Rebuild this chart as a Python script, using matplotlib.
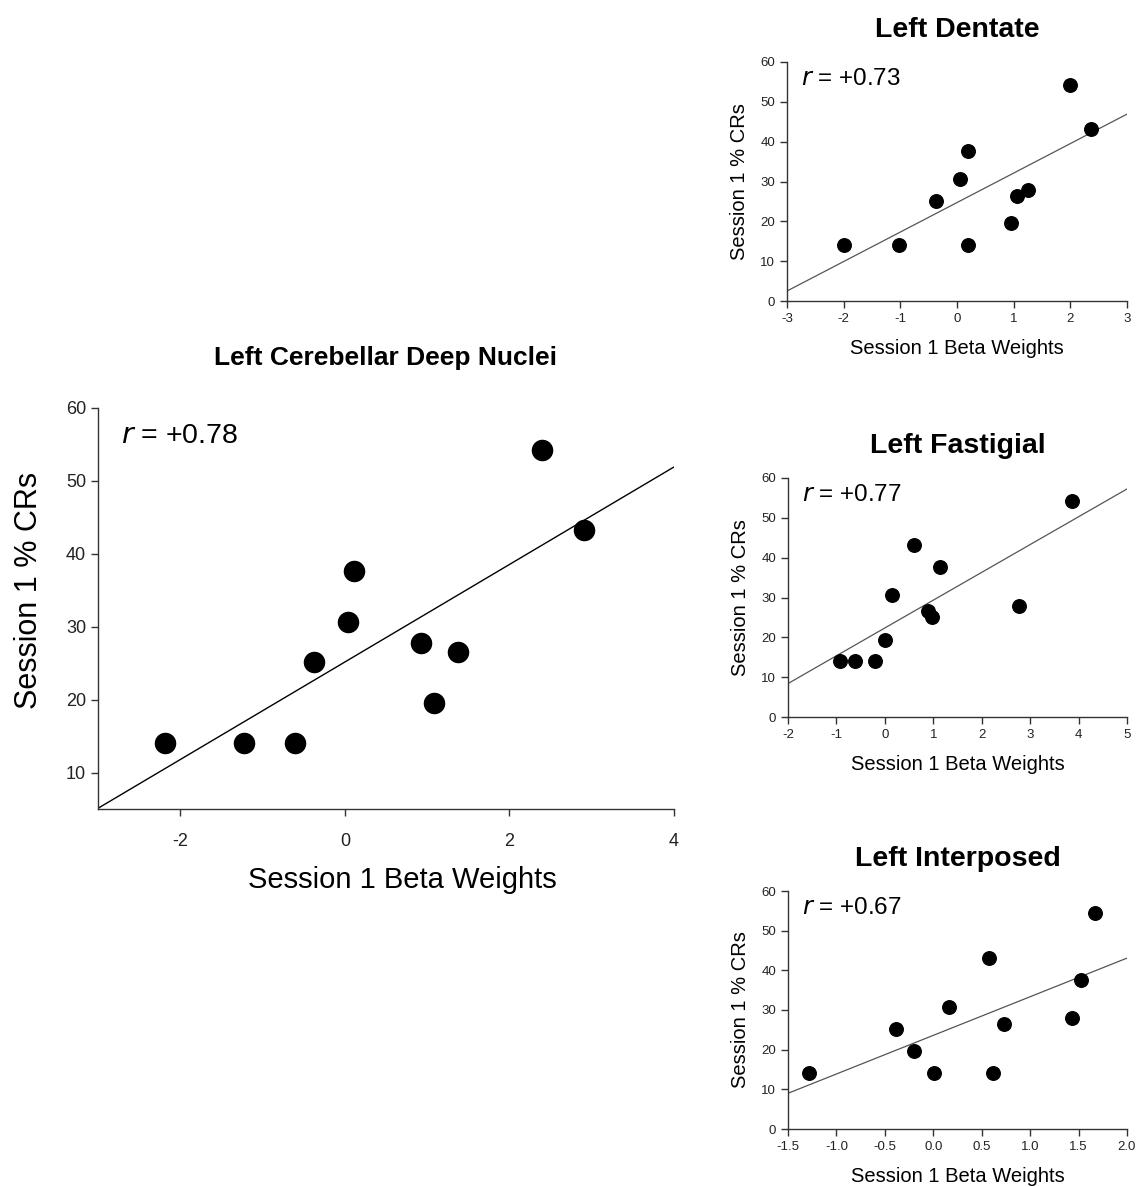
import numpy as np
import matplotlib
matplotlib.use("Agg")
import matplotlib.pyplot as plt

plt.rcParams['font.family'] = ['Liberation Sans', 'DejaVu Sans']
plt.rcParams['axes.unicode_minus'] = False

# % CRs (same subjects in every panel)
crs_deep = [14.0, 14.0, 14.0, 25.1, 30.6, 37.6, 27.8, 26.5, 19.5, 54.3, 43.2]
beta_deep = [-2.19, -1.23, -0.60, -0.37, 0.04, 0.11, 0.93, 1.38, 1.08, 2.40, 2.91]

crs_dent = [14.0, 14.0, 25.1, 30.6, 37.7, 14.0, 19.6, 26.4, 27.9, 54.2, 43.2]
beta_dent = [-1.99, -1.02, -0.37, 0.05, 0.20, 0.20, 0.96, 1.06, 1.26, 2.00, 2.36]

crs_fast = [14.0, 14.0, 14.0, 19.4, 30.6, 43.1, 26.5, 25.1, 37.6, 27.9, 54.2]
beta_fast = [-0.92, -0.61, -0.21, 0.00, 0.15, 0.61, 0.90, 0.98, 1.14, 2.77, 3.86]

crs_int = [14.0, 25.1, 19.6, 14.0, 30.8, 43.2, 14.0, 26.5, 27.9, 37.6, 54.4]
beta_int = [-1.28, -0.38, -0.20, 0.01, 0.16, 0.58, 0.62, 0.73, 1.43, 1.53, 1.67]

r_labels = ['+0.78', '+0.73', '+0.77', '+0.67']

W, H = 1136, 1187
fig = plt.figure(figsize=(W / 100, H / 100), dpi=100)


def px_axes(left, top, right, bottom):
    return fig.add_axes([left / W, 1 - bottom / H, (right - left) / W, (bottom - top) / H])


def style(ax, tick_size, lw):
    for s in ['top', 'right']:
        ax.spines[s].set_visible(False)
    for s in ['left', 'bottom']:
        ax.spines[s].set_linewidth(lw)
        ax.spines[s].set_color('#333333')
    ax.tick_params(direction='out', length=5, width=lw, colors='#333333',
                   labelsize=tick_size, labelcolor='#222222')


def panel(ax, x, y, xlim, ylim, xticks, yticks, r, title, big=False):
    fs_lab = 21 if big else 14.5
    fs_tick = 13 if big else 9.5
    fs_r = 20.5 if big else 17.5
    ms = 210 if big else 95
    style(ax, fs_tick, 1.0)
    ax.scatter(x, y, s=ms, color='black', zorder=3, clip_on=False)
    k, b = np.polyfit(x, y, 1)
    xs = np.array(xlim)
    ax.plot(xs, k * xs + b, color='black' if big else '#555555',
            lw=1.0 if big else 0.9, zorder=2)
    ax.set_xlim(xlim)
    ax.set_ylim(ylim)
    ax.set_xticks(xticks)
    ax.set_yticks(yticks)
    ax.set_xlabel('Session 1 Beta Weights', fontsize=fs_lab,
                  labelpad=20 if big else 10)
    ax.set_ylabel('Session 1 % CRs', fontsize=fs_lab + (1 if big else 0),
                  labelpad=16 if big else 8)
    ax.text(0.04, 0.93, '$r$ = ' + r, transform=ax.transAxes,
            fontsize=fs_r, va='center', ha='left')
    ax.set_title(title, fontsize=19 if big else 20.5, fontweight='bold',
                 pad=31 if big else 18)


ax0 = px_axes(98, 408, 674, 809)
panel(ax0, beta_deep, crs_deep, (-3, 4), (5, 60), [-2, 0, 2, 4],
      [10, 20, 30, 40, 50, 60], r_labels[0], 'Left Cerebellar Deep Nuclei', big=True)
ax0.tick_params(axis='x', pad=12)
ax0.xaxis.set_label_coords(0.528, -0.142)
ax0.yaxis.set_label_coords(-0.094, 0.546)

ax1 = px_axes(787, 62, 1127, 301)
panel(ax1, beta_dent, crs_dent, (-3, 3), (0, 60), list(range(-3, 4)),
      list(range(0, 61, 10)), r_labels[1], 'Left Dentate')

ax2 = px_axes(788, 478, 1127, 717)
panel(ax2, beta_fast, crs_fast, (-2, 5), (0, 60), list(range(-2, 6)),
      list(range(0, 61, 10)), r_labels[2], 'Left Fastigial')

ax3 = px_axes(788, 891, 1127, 1129)
panel(ax3, beta_int, crs_int, (-1.5, 2.0), (0, 60), list(np.arange(-1.5, 2.01, 0.5)),
      list(range(0, 61, 10)), r_labels[3], 'Left Interposed')
ax3.set_xticklabels(['%.1f' % v for v in np.arange(-1.5, 2.01, 0.5)])

fig.savefig('out.png', dpi=100)
